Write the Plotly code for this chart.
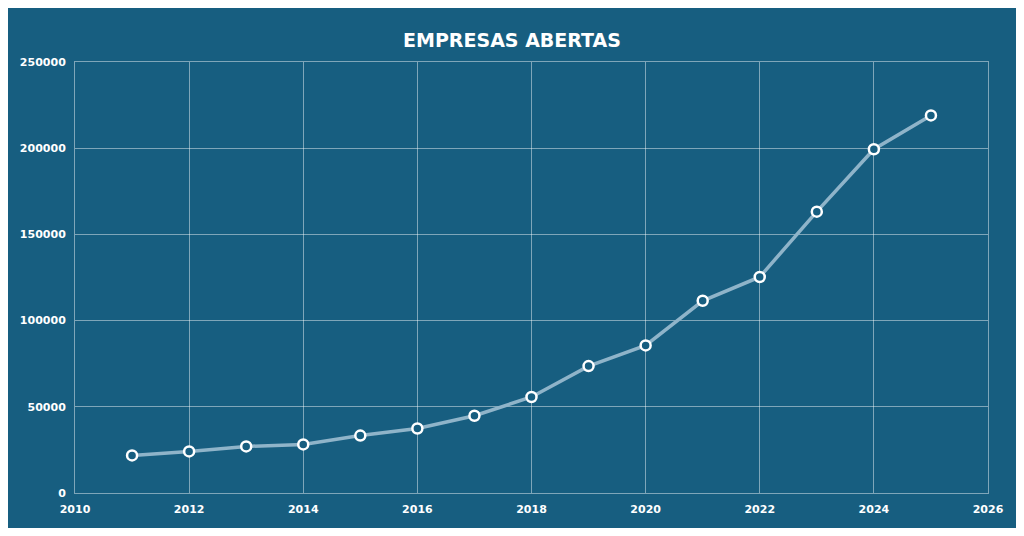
import plotly.graph_objects as go

anos = [2011, 2012, 2013, 2014, 2015, 2016, 2017, 2018, 2019, 2020, 2021, 2022, 2023, 2024, 2025]
empresas = [21800, 24100, 27000, 28200, 33300, 37400, 44800, 55700, 73600, 85600,
            111500, 125300, 163200, 199400, 219000]

bg = "#175e80"
grid = "rgba(255,255,255,0.45)"

fig = go.Figure(go.Scatter(
    x=anos, y=empresas, mode="lines+markers",
    line=dict(color="#8fb4c9", width=3.5),
    marker=dict(size=10, color=bg, line=dict(color="white", width=2.5)),
))

fig.update_layout(
    title=dict(text="<b>EMPRESAS ABERTAS</b>", x=0.5, y=0.95, xanchor="center",
               font=dict(family="DejaVu Sans", size=19, color="white")),
    width=1008, height=520,
    paper_bgcolor=bg, plot_bgcolor=bg,
    margin=dict(l=59, r=25, t=54, b=31),
    showlegend=False,
    font=dict(family="DejaVu Sans", size=11, color="white"),
)
fig.update_xaxes(range=[2010, 2026], dtick=2, showgrid=True, gridcolor=grid,
                 gridwidth=1, zeroline=False, linecolor=grid, showline=True,
                 mirror=True, tickfont=dict(size=11, color="white", weight="bold"),
                 ticks="", ticklabelstandoff=6)
fig.update_yaxes(range=[0, 250000], dtick=50000, showgrid=True, gridcolor=grid,
                 gridwidth=1, zeroline=False, linecolor=grid, showline=True,
                 mirror=True, tickformat="d",
                 tickfont=dict(size=11, color="white", weight="bold"),
                 ticks="", ticklabelstandoff=6)

fig.write_html("out.html")
